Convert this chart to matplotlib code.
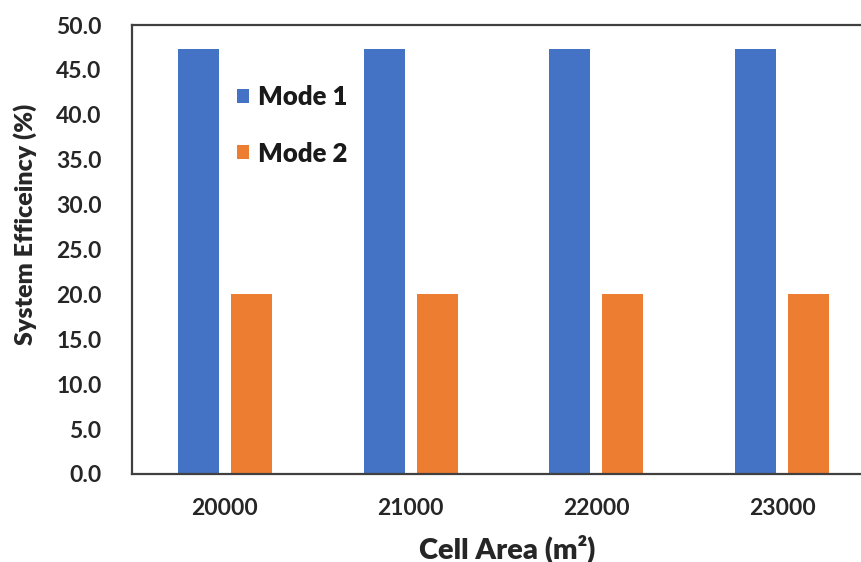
import matplotlib
matplotlib.use("Agg")
import matplotlib.pyplot as plt
import numpy as np

plt.rcParams['font.family'] = ['Lato', 'DejaVu Sans']
plt.rcParams['font.weight'] = 'bold'

cell_areas = ["20000", "21000", "22000", "23000"]
mode1 = [47.3, 47.3, 47.3, 47.3]
mode2 = [20.0, 20.0, 20.0, 20.0]
series_names = ["Mode 1", "Mode 2"]
colors = ["#4472C4", "#ED7D31"]

W, H = 862, 562
fig = plt.figure(figsize=(W / 100, H / 100), dpi=100)
ax = fig.add_axes([132 / W, 88 / H, (875 - 132) / W, (474 - 25) / H])

x = np.arange(len(cell_areas))
bw = 0.22
off = 0.1425
ax.bar(x - off, mode1, bw, color=colors[0], label=series_names[0])
ax.bar(x + off, mode2, bw, color=colors[1], label=series_names[1])

ax.set_xlim(-0.5, len(cell_areas) - 0.5)
ax.set_ylim(0, 50)
ax.set_yticks(np.arange(0, 50.1, 5))
ax.set_yticklabels([f"{v:.1f}" for v in np.arange(0, 50.1, 5)])
ax.set_xticks(x)
ax.set_xticklabels(cell_areas)
ax.tick_params(axis='both', length=0, labelsize=16.5, colors='#262626')
ax.tick_params(axis='x', pad=17)
ax.tick_params(axis='y', pad=22)

for side in ['left', 'top', 'bottom']:
    ax.spines[side].set_color('#404040')
    ax.spines[side].set_linewidth(1.6)
ax.spines['right'].set_visible(False)

ax.set_xlabel("Cell Area (m²)", fontsize=21, fontweight='heavy', color='#262626', labelpad=10)
ax.set_ylabel("System Efficeincy (%)", fontsize=18, fontweight='heavy', color='#262626')
ax.yaxis.set_label_coords(-0.128, 0.555)
ax.xaxis.set_label_coords(0.505, -0.135)

leg = ax.legend(loc='upper left', bbox_to_anchor=(214 / W, 1 - 62 / H), bbox_transform=fig.transFigure,
                frameon=False, fontsize=18.5, handlelength=0.45, handleheight=0.45,
                handletextpad=0.35, labelspacing=1.26)
for t in leg.get_texts():
    t.set_color('#1a1a1a')
    t.set_fontweight('heavy')

fig.savefig("out.png", dpi=100)
